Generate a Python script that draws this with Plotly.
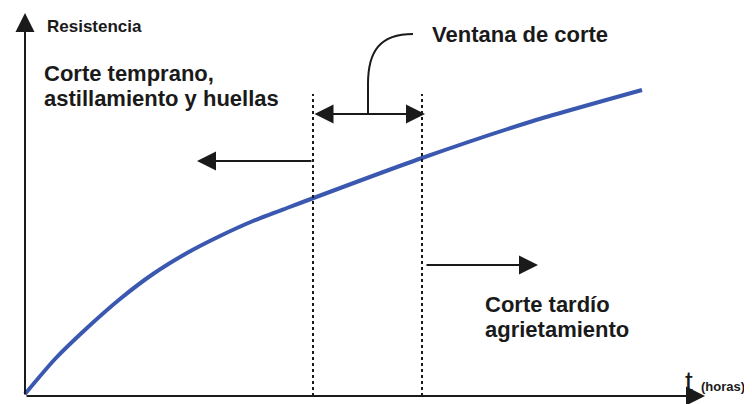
#Resistencia vs tiempo: ventana de corte

import plotly.graph_objects as go

#curve values (origin at the axes corner)
t_horas = [0, 30, 62, 95, 128, 162, 195, 228, 262, 397, 508, 617]
resistencia = [2, 37, 68, 97, 122, 143, 160, 175, 188, 238, 275, 306]

#window limits and guide arrows
ventana = [288, 397]
ventana_top = 302
flecha_izq = dict(x0=288, x1=172, y=235)
flecha_der = dict(x0=400, x1=513, y=131)

font = "Liberation Sans, Arial, sans-serif"
ink = "#1a1a1a"

fig = go.Figure()
fig.add_trace(go.Scatter(x=t_horas, y=resistencia, mode="lines",
                         line=dict(color="rgb(58,88,176)", width=4, shape="spline", smoothing=0.6),
                         hoverinfo="skip"))

#dashed limits of the window
for xv in ventana:
    fig.add_shape(type="line", x0=xv, x1=xv, y0=0, y1=ventana_top,
                  line=dict(color=ink, width=2, dash="dot"))

#leader from the double arrow to the label
fig.add_shape(type="path", path="M 343,282 L 343,312 C 343,345 355,362 388,362",
              line=dict(color=ink, width=2))

arrow = dict(showarrow=True, arrowhead=2, arrowsize=1.9, arrowwidth=2,
             arrowcolor=ink, axref="x", ayref="y", text="")

#axes drawn as arrows
fig.add_annotation(x=0, y=383, ax=0, ay=0, **arrow)
fig.add_annotation(x=680, y=0, ax=0, ay=0, **arrow)

#window double arrow
fig.add_annotation(x=400, y=282, ax=288, ay=282, arrowside="end+start", **arrow)
#early / late arrows
fig.add_annotation(x=flecha_izq["x1"], y=flecha_izq["y"], ax=flecha_izq["x0"], ay=flecha_izq["y"], **arrow)
fig.add_annotation(x=flecha_der["x1"], y=flecha_der["y"], ax=flecha_der["x0"], ay=flecha_der["y"], **arrow)

def label(x, y, text, size, bold=True):
    fig.add_annotation(x=x, y=y, text=("<b>%s</b>" % text) if bold else text,
                       showarrow=False, xanchor="left", yanchor="middle",
                       font=dict(family=font, size=size, color=ink))

label(20, 370, "Resistencia", 17)
label(17, 323, "Corte temprano,", 22)
label(17, 298, "astillamiento y huellas", 22)
label(405, 362, "Ventana de corte", 22)
label(458, 92, "Corte tardío", 22)
label(458, 67, "agrietamiento", 22)
label(658, 15, "t", 28, bold=False)
label(674, 10, "(horas)", 13)

#the page body adds 8px, so the ranges are shifted to keep the origin in place
fig.update_layout(width=752, height=404, margin=dict(l=0, r=0, t=0, b=0),
                  paper_bgcolor="white", plot_bgcolor="white", showlegend=False,
                  xaxis=dict(range=[-17, 735], visible=False, fixedrange=True),
                  yaxis=dict(range=[-16, 388], visible=False, fixedrange=True))

fig.write_html("out.html")
